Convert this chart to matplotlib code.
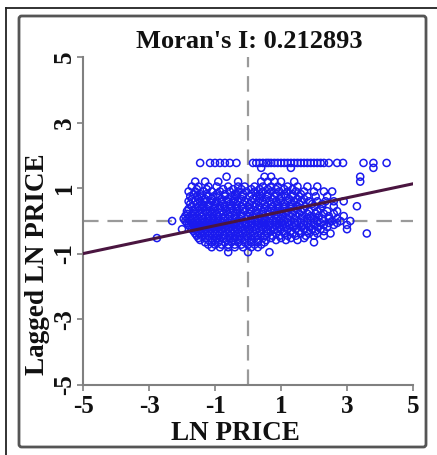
import matplotlib
matplotlib.use("Agg")
import matplotlib.pyplot as plt
from matplotlib.patches import FancyBboxPatch
from matplotlib.lines import Line2D
import numpy as np

title = "Moran's I: 0.212893"
x_label = "LN PRICE"
y_label = "Lagged LN PRICE"
ticks = [-5, -3, -1, 1, 3, 5]
slope = 0.212893
intercept = 0.07

# scatter points, grouped by approximate row (y level)
row_y = [1.77, 1.62, 1.35, 1.2, 1.05, 0.9, 0.75, 0.6, 0.45, 0.3, 0.15, 0.0,
         -0.12, -0.25, -0.38, -0.52, -0.65, -0.8, -0.95]
row_x = [
    [-1.45, -1.15, -1.0, -0.85, -0.7, -0.55, -0.35, 0.15, 0.25, 0.35, 0.45, 0.55, 0.62, 0.7,
     0.8, 0.9, 1.0, 1.1, 1.2, 1.3, 1.4, 1.5, 1.6, 1.7, 1.8, 1.9, 2.0, 2.1, 2.2, 2.3, 2.45,
     2.7, 2.88, 3.5, 3.8, 4.2],
    [0.4, 1.3, 3.8],
    [-0.65, 0.5, 0.7, 3.4],
    [-1.6, -1.3, -0.9, -0.3, 0.4, 0.6, 0.8, 1.0, 1.4, 3.4],
    [-1.7, -1.5, -1.2, -0.95, -0.6, -0.3, -0.1, 0.2, 0.45, 0.7, 0.9, 1.2, 1.5, 1.8, 2.1],
    [-1.8, -1.6, -1.35, -1.1, -0.85, -0.55, -0.3, -0.05, 0.2, 0.45, 0.7, 0.95, 1.2, 1.45,
     1.7, 2.0, 2.3, 2.55],
    [-1.75, -1.55, -1.4, -1.2, -1.05, -0.9, -0.7, -0.5, -0.35, -0.15, 0.05, 0.25, 0.4, 0.6,
     0.8, 1.0, 1.15, 1.35, 1.55, 1.8, 2.05, 2.4],
    [-1.8, -1.6, -1.45, -1.3, -1.1, -0.95, -0.8, -0.6, -0.45, -0.3, -0.1, 0.1, 0.3, 0.45,
     0.65, 0.85, 1.0, 1.2, 1.4, 1.6, 1.85, 2.1, 2.35, 2.6, 2.9],
    [-1.7, -1.5, -1.35, -1.2, -1.0, -0.85, -0.7, -0.5, -0.35, -0.2, 0.0, 0.2, 0.35, 0.55,
     0.75, 0.9, 1.1, 1.3, 1.5, 1.75, 2.0, 2.25, 2.6, 3.3],
    [-1.85, -1.65, -1.5, -1.3, -1.15, -1.0, -0.8, -0.65, -0.45, -0.3, -0.1, 0.1, 0.25,
     0.45, 0.6, 0.8, 1.0, 1.2, 1.4, 1.6, 1.85, 2.1, 2.4, 2.7],
    [-1.9, -1.7, -1.55, -1.4, -1.2, -1.05, -0.9, -0.7, -0.55, -0.4, -0.2, 0.0, 0.15, 0.35,
     0.5, 0.7, 0.9, 1.05, 1.25, 1.45, 1.65, 1.9, 2.15, 2.45, 2.9],
    [-2.3, -1.9, -1.75, -1.6, -1.45, -1.3, -1.15, -1.0, -0.85, -0.7, -0.5, -0.3, -0.15,
     0.05, 0.2, 0.4, 0.55, 0.75, 0.95, 1.1, 1.3, 1.5, 1.7, 1.9, 2.1, 2.3, 2.55, 2.8, 3.1],
    [-1.8, -1.65, -1.5, -1.35, -1.2, -1.05, -0.9, -0.75, -0.6, -0.4, -0.25, -0.05, 0.1,
     0.3, 0.5, 0.65, 0.85, 1.05, 1.25, 1.45, 1.7, 2.0, 2.3, 2.6, 3.0],
    [-2.0, -1.7, -1.55, -1.4, -1.25, -1.1, -0.95, -0.8, -0.6, -0.45, -0.3, -0.1, 0.05,
     0.25, 0.45, 0.6, 0.8, 1.0, 1.2, 1.45, 1.7, 1.95, 2.2, 3.0],
    [-1.6, -1.45, -1.3, -1.15, -1.0, -0.85, -0.65, -0.5, -0.3, -0.15, 0.05, 0.2, 0.4,
     0.6, 0.85, 1.1, 1.35, 1.6, 1.85, 2.1, 2.5, 3.6],
    [-2.76, -1.5, -1.3, -1.1, -0.95, -0.75, -0.55, -0.4, -0.2, 0.0, 0.2, 0.45, 0.7, 1.0,
     1.3, 1.7],
    [-1.3, -1.1, -0.9, -0.7, -0.5, -0.3, -0.1, 0.1, 0.3, 0.5, 2.0],
    [-1.1, -0.85, -0.6, -0.4, -0.15, 0.1, 0.3],
    [-0.6, 0.0, 0.65],
]

# extra points in the dense core, between the rows above
core_y = [0.97, 0.82, 0.67, 0.52, 0.37, 0.22, 0.07, -0.06, -0.18, -0.31, -0.45,
          -0.58, -0.72]
core_x = [
    [-1.55, -1.25, -0.75, -0.45, -0.2, 0.1, 0.35, 0.6, 0.85, 1.1, 1.35],
    [-1.65, -1.45, -1.25, -0.95, -0.7, -0.4, -0.15, 0.1, 0.35, 0.6, 0.85, 1.1, 1.35, 1.6],
    [-1.7, -1.5, -1.3, -1.1, -0.8, -0.6, -0.4, -0.2, 0.15, 0.35, 0.55, 0.75, 0.95, 1.25,
     1.5, 1.7],
    [-1.75, -1.55, -1.4, -1.2, -1.0, -0.75, -0.55, -0.35, -0.15, 0.05, 0.25, 0.5, 0.7,
     0.9, 1.1, 1.3, 1.55, 1.95, 2.25],
    [-1.8, -1.6, -1.4, -1.25, -1.05, -0.9, -0.7, -0.55, -0.35, -0.15, 0.05, 0.3, 0.5,
     0.7, 0.9, 1.1, 1.3, 1.5, 1.7, 2.2],
    [-1.85, -1.6, -1.45, -1.25, -1.1, -0.95, -0.75, -0.6, -0.35, -0.2, 0.05, 0.25, 0.45,
     0.65, 0.85, 1.0, 1.15, 1.35, 1.55, 1.8, 2.05, 2.3, 2.6],
    [-1.95, -1.8, -1.65, -1.5, -1.35, -1.2, -1.05, -0.9, -0.75, -0.6, -0.4, -0.25, -0.05,
     0.1, 0.3, 0.5, 0.65, 0.85, 1.0, 1.2, 1.4, 1.6, 1.8, 2.0, 2.25, 2.45, 2.7],
    [-1.85, -1.7, -1.55, -1.4, -1.25, -1.1, -0.95, -0.8, -0.6, -0.45, -0.25, -0.1, 0.1,
     0.3, 0.45, 0.65, 0.85, 1.0, 1.2, 1.4, 1.6, 1.8, 2.0, 2.2, 2.45, 2.7],
    [-1.75, -1.6, -1.45, -1.3, -1.15, -1.0, -0.85, -0.7, -0.5, -0.35, -0.2, 0.0, 0.2,
     0.4, 0.55, 0.75, 0.95, 1.15, 1.35, 1.6, 1.85, 2.1, 2.4],
    [-1.65, -1.5, -1.35, -1.2, -1.05, -0.9, -0.75, -0.55, -0.4, -0.2, -0.05, 0.15, 0.35,
     0.55, 0.7, 0.9, 1.1, 1.3, 1.55, 1.8, 2.05, 2.3],
    [-1.55, -1.4, -1.2, -1.05, -0.9, -0.75, -0.55, -0.4, -0.25, -0.05, 0.1, 0.3, 0.5,
     0.75, 0.95, 1.2, 1.45, 1.75, 2.0, 2.3],
    [-1.45, -1.2, -1.0, -0.85, -0.65, -0.45, -0.3, -0.1, 0.1, 0.3, 0.55, 0.85, 1.15, 1.5],
    [-1.2, -1.0, -0.8, -0.6, -0.4, -0.2, 0.0, 0.2, 0.4],
]

W, H = 437, 455
fig = plt.figure(figsize=(W / 100, H / 100), dpi=100)
plt.rcParams['font.family'] = ['Liberation Serif', 'DejaVu Serif']

# outer frame lines
fig.add_artist(Line2D([6 / W, 1.0], [1 - 8 / H, 1 - 8 / H], transform=fig.transFigure,
                      color="#222222", lw=1.3))
fig.add_artist(Line2D([6 / W, 6 / W], [1 - 8 / H, 0.0], transform=fig.transFigure,
                      color="#222222", lw=1.3))
# inner rounded frame
box = FancyBboxPatch((19 / W, 1 - 447 / H), (426 - 19) / W, (447 - 16) / H,
                     boxstyle="round,pad=0,rounding_size=0.006",
                     transform=fig.transFigure, fill=False, ec="#555555", lw=2.0)
fig.add_artist(box)

ax = fig.add_axes([83 / W, 1 - 385 / H, (413 - 83) / W, (385 - 57) / H])
ax.set_xlim(-5, 5)
ax.set_ylim(-5, 5)

ax.axvline(0, color="#9a9a9a", lw=1.6, ls=(0, (7, 4)), zorder=1)
ax.axhline(0, color="#9a9a9a", lw=1.6, ls=(0, (7, 4)), zorder=1)

all_x = row_x + core_x
all_y = row_y + core_y
xs = np.concatenate([np.array(r, dtype=float) for r in all_x])
ys = np.concatenate([np.full(len(r), y) for r, y in zip(all_x, all_y)])
ax.scatter(xs, ys, s=26, facecolors="none", edgecolors="#1a1aee", linewidths=1.1, zorder=2)

line_x = np.array([-5.0, 5.0])
ax.plot(line_x, intercept + slope * line_x, color="#4a1540", lw=2.2, zorder=3)

for s in ["top", "right"]:
    ax.spines[s].set_visible(False)
for s in ["left", "bottom"]:
    ax.spines[s].set_color("#808080")
    ax.spines[s].set_linewidth(1.5)

ax.set_xticks(ticks)
ax.set_yticks(ticks)
ax.set_xticklabels([str(t) for t in ticks], fontsize=18, fontweight="bold")
ax.set_yticklabels([str(t) for t in ticks], fontsize=18, fontweight="bold",
                   rotation=90, va="center")
ax.tick_params(axis="both", colors="#808080", length=4, width=1.2, labelcolor="#111111")
ax.tick_params(axis="x", pad=3)
ax.tick_params(axis="y", pad=1)

fig.text(249 / W, 1 - 48 / H, title, ha="center", va="baseline", fontsize=19,
         fontweight="bold", color="#111111")
fig.text(235 / W, 1 - 440 / H, x_label, ha="center", va="baseline", fontsize=19.5,
         fontweight="bold", color="#111111")
fig.text(38 / W, 1 - 264 / H, y_label, ha="center", va="center", fontsize=19.5,
         fontweight="bold", color="#111111", rotation=90)

fig.savefig("out.png", dpi=100)
